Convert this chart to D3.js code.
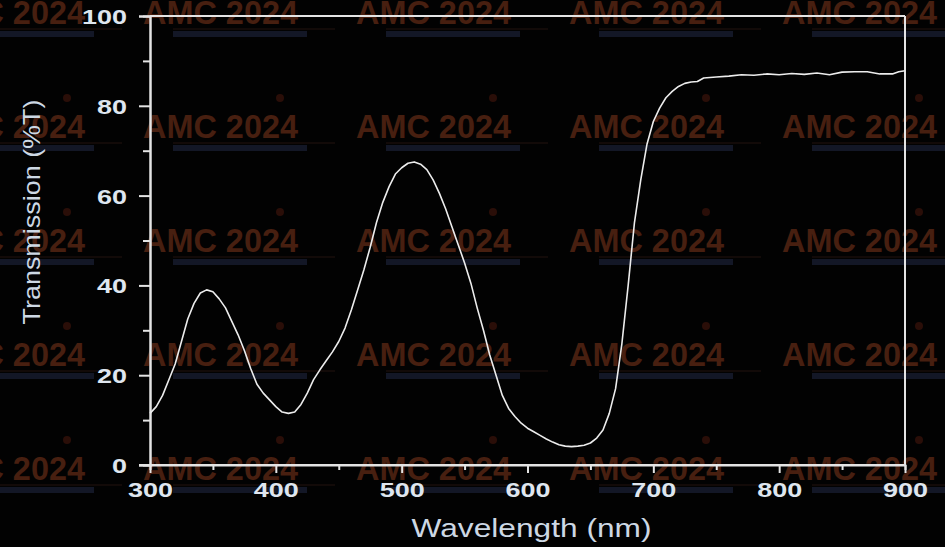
<!DOCTYPE html>
<html>
<head>
<meta charset="utf-8">
<script src="https://cdn.jsdelivr.net/npm/d3@7"></script>
<style>
  html, body { margin: 0; padding: 0; background: #000; }
  svg { display: block; }
</style>
</head>
<body>
<svg id="chart" width="945" height="547"></svg>
<script>
// ---- data ----
const wavelength = [300,305,310,315,320,325,330,335,340,345,350,355,360,365,370,375,380,385,390,395,
  400,405,410,415,420,425,430,435,440,445,450,455,460,465,470,475,480,485,490,495,
  500,505,510,515,520,525,530,535,540,545,550,555,560,565,570,575,580,585,590,595,
  600,605,610,615,620,625,630,635,640,645,650,655,660,665,670,675,680,685,690,695,
  700,705,710,715,720,725,730,735,740,745,750,760,770,780,790,800,810,820,830,840,
  850,860,870,880,890,895,900];
const transmission = [11.5,13,15.5,19,22.5,27.5,32.5,36,38.3,39,38.6,37,35,32,29,25.5,21.5,18,16,14.5,
  13,11.8,11.5,11.8,13.5,16,19,21.2,23.2,25.2,27.5,30.5,34.5,39,43.5,48.5,54,58.5,62,64.8,
  66.2,67.2,67.5,67,65.8,63.5,60.5,57,53,49,45,40.5,35,30,24.5,20,15.5,12.6,10.8,9.3,
  8.2,7.4,6.6,5.8,5.1,4.5,4.2,4.1,4.2,4.4,4.9,6,7.8,11.5,17,27,40,54,63.5,71.5,
  76.5,79.5,81.8,83.2,84.3,85,85.3,85.4,86.2,86.3,86.4,86.6,86.9,86.8,87.1,86.9,87.2,87,87.3,86.9,
  87.5,87.6,87.6,87.1,87.1,87.6,87.8];
const xTicks = [300,400,500,600,700,800,900];
const xMinor = [350,450,550,650,750,850];
const yTicks = [0,20,40,60,80,100];
const yMinor = [10,30,50,70,90];
const xLabel = "Wavelength (nm)";
const yLabel = "Transmission (%T)";
const watermark = "AMC 2024";
const wmCols = [-70,143,356,569,782];
const wmRows = [12,126,240,354,468];

// ---- layout ----
const svg = d3.select("#chart");
const L = 150, R = 905, T = 16, B = 465;
const x = d3.scaleLinear().domain([300,900]).range([L,R]);
const y = d3.scaleLinear().domain([0,100]).range([B,T]);
const axisCol = "#e4e4e4";
const labelCol = "#dfe6ef";

svg.append("rect").attr("width",945).attr("height",547).attr("fill","#020202");

// watermarks
const wm = svg.append("g");
wmRows.forEach(ry => {
  wmCols.forEach(cx => {
    const g = wm.append("g").attr("transform",`translate(${cx},${ry})`);
    g.append("circle").attr("cx",137).attr("cy",-28).attr("r",4).attr("fill","#2a0e08");
    g.append("line").attr("x1",30).attr("x2",192).attr("y1",17).attr("y2",17)
      .attr("stroke","#22120e").attr("stroke-width",1);
    g.append("rect").attr("x",30).attr("y",19).attr("width",134).attr("height",6)
      .attr("fill","#131726");
    g.append("text").attr("x",0).attr("y",12)
      .attr("font-family","Liberation Sans, Arial, sans-serif")
      .attr("font-weight","bold").attr("font-size",33)
      .attr("textLength",155).attr("lengthAdjust","spacingAndGlyphs")
      .attr("fill","#471f10").text(watermark);
  });
});

// frame
const frame = svg.append("g").attr("stroke",axisCol).attr("stroke-width",2).attr("fill","none");
frame.append("line").attr("x1",L).attr("x2",R).attr("y1",T).attr("y2",T);
frame.append("line").attr("x1",R).attr("x2",R).attr("y1",T).attr("y2",B);

// axes
const xAxis = svg.append("g").attr("transform",`translate(0,${B})`)
  .call(d3.axisBottom(x).tickValues(xTicks).tickSize(8).tickPadding(9).tickFormat(d3.format("d")));
const xAxisMinor = svg.append("g").attr("transform",`translate(0,${B})`)
  .call(d3.axisBottom(x).tickValues(xMinor).tickSize(5).tickFormat(""));
const yAxis = svg.append("g").attr("transform",`translate(${L},0)`)
  .call(d3.axisLeft(y).tickValues(yTicks).tickSize(11).tickPadding(12).tickFormat(d3.format("d")));
const yAxisMinor = svg.append("g").attr("transform",`translate(${L},0)`)
  .call(d3.axisLeft(y).tickValues(yMinor).tickSize(7).tickFormat(""));

[xAxis,xAxisMinor,yAxis,yAxisMinor].forEach(a => {
  a.selectAll(".domain").attr("stroke",axisCol).attr("stroke-width",2);
  a.selectAll(".tick line").attr("stroke",axisCol).attr("stroke-width",2);
});
xAxis.selectAll(".domain").attr("d",`M${L-11},0H${R}`);
[xAxis,yAxis].forEach(a => {
  a.selectAll(".tick text")
    .attr("fill",labelCol)
    .attr("font-family","Liberation Sans, Arial, sans-serif")
    .attr("font-weight","bold")
    .attr("font-size",21)
    .attr("lengthAdjust","spacingAndGlyphs")
    .attr("textLength",function(){ return this.textContent.length*15; });
});
yAxis.selectAll(".tick text").attr("dy","0.36em");

// curve
const line = d3.line().x((d,i)=>x(wavelength[i])).y(d=>y(d));
svg.append("path").datum(transmission)
  .attr("d",line).attr("fill","none")
  .attr("stroke","#ececec").attr("stroke-width",1.6).attr("stroke-linejoin","round");

// axis labels
svg.append("text").attr("x",(L+R)/2 + 4).attr("y",537)
  .attr("text-anchor","middle")
  .attr("font-family","Liberation Sans, Arial, sans-serif")
  .attr("font-size",25).attr("fill","#cdd8e4")
  .attr("textLength",240).attr("lengthAdjust","spacingAndGlyphs")
  .text(xLabel);
svg.append("text")
  .attr("transform","translate(40,212) rotate(-90)")
  .attr("text-anchor","middle")
  .attr("font-family","Liberation Sans, Arial, sans-serif")
  .attr("font-size",24).attr("fill","#cdd8e4")
  .attr("textLength",225).attr("lengthAdjust","spacingAndGlyphs")
  .text(yLabel);
</script>
</body>
</html>
